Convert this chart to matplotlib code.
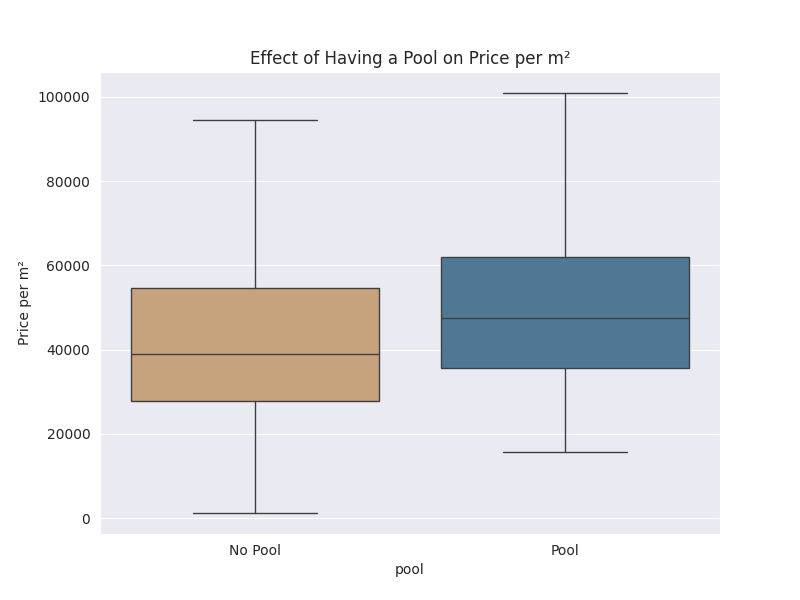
import matplotlib
matplotlib.use("Agg")
import matplotlib.pyplot as plt
import seaborn as sns

# box statistics (price per m²)
groups = ["No Pool", "Pool"]
whisker_low = [1200, 15700]
q1 = [27800, 35600]
median = [39000, 47500]
q3 = [54600, 62000]
whisker_high = [94500, 100900]
box_colors = ["#c6a27d", "#4e7894"]

sns.set_style("darkgrid")

fig, ax = plt.subplots(figsize=(8, 6), dpi=100)

stats = []
for i, name in enumerate(groups):
    stats.append({
        "label": name,
        "whislo": whisker_low[i],
        "q1": q1[i],
        "med": median[i],
        "q3": q3[i],
        "whishi": whisker_high[i],
        "fliers": [],
    })

line_color = "#3f3f3f"
bp = ax.bxp(stats, positions=range(len(groups)), widths=0.8, patch_artist=True,
            showfliers=False,
            boxprops=dict(edgecolor=line_color, linewidth=1.0),
            medianprops=dict(color=line_color, linewidth=1.0),
            whiskerprops=dict(color=line_color, linewidth=1.0),
            capprops=dict(color=line_color, linewidth=1.0),
            capwidths=0.4)
for patch, c in zip(bp["boxes"], box_colors):
    patch.set_facecolor(c)

ax.set_xlim(-0.5, 1.5)
ax.set_xticks(range(len(groups)))
ax.set_xticklabels(groups)
ax.set_xlabel("pool")
ax.set_ylabel("Price per m²")
ax.set_title("Effect of Having a Pool on Price per m²")
ax.grid(axis="x", visible=False)

fig.savefig("out.png", dpi=100)
